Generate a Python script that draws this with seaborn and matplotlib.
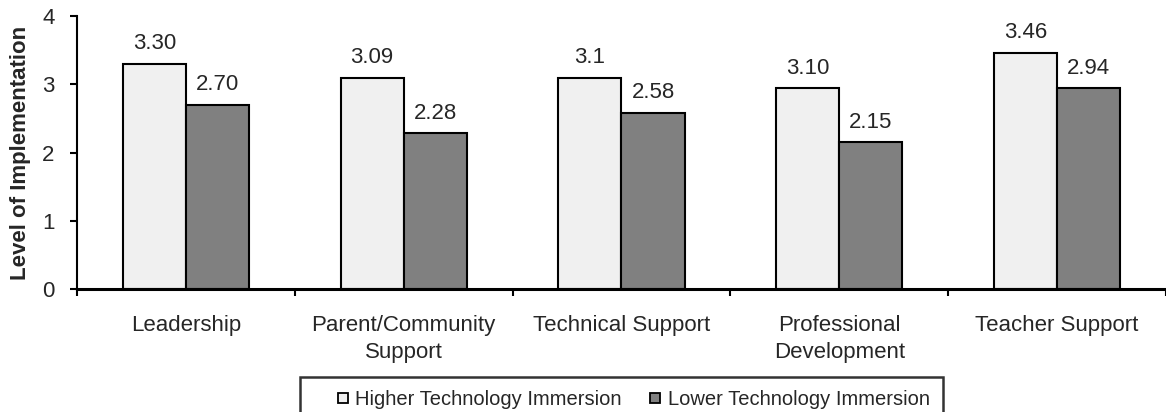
import matplotlib
matplotlib.use("Agg")
import matplotlib.pyplot as plt
from matplotlib.lines import Line2D
import seaborn as sns
import pandas as pd
import numpy as np

# Данные с графика
categories = ["Leadership", "Parent/Community\nSupport", "Technical Support",
              "Professional\nDevelopment", "Teacher Support"]
groups = ["Higher Technology Immersion", "Lower Technology Immersion"]
higher = [3.30, 3.09, 3.09, 2.94, 3.46]
lower = [2.70, 2.28, 2.58, 2.15, 2.94]
higher_labels = ["3.30", "3.09", "3.1", "3.10", "3.46"]
lower_labels = ["2.70", "2.28", "2.58", "2.15", "2.94"]
colors = ["#F0F0F0", "#808080"]

df = pd.DataFrame({
    "category": categories * 2,
    "value": higher + lower,
    "group": [groups[0]] * len(categories) + [groups[1]] * len(categories),
})

sns.set_style("white")
plt.rcParams["font.family"] = ["Liberation Sans", "DejaVu Sans"]

fig = plt.figure(figsize=(11.66, 4.12), dpi=100)
ax_left, ax_width = 0.066, 0.934
ax = fig.add_axes([ax_left, 0.2985, ax_width, 0.6625])

sns.barplot(data=df, x="category", y="value", hue="group", ax=ax,
            palette=colors, saturation=1, width=0.58, gap=0,
            edgecolor="black", linewidth=1.5, legend=False)

for cont, labs in zip(ax.containers, [higher_labels, lower_labels]):
    ax.bar_label(cont, labels=labs, padding=7, fontsize=16)

ax.set_ylim(0, 4)
ax.set_xlim(-0.5, len(categories) - 0.5)
ax.set_yticks([0, 1, 2, 3, 4])
ax.set_xlabel("")
ax.set_ylabel("Level of Implementation", fontsize=16, fontweight="bold", labelpad=8)

# Деления по границам категорий
ax.set_xticks(np.arange(-0.5, len(categories)), minor=True)
ax.tick_params(axis="x", which="major", length=0, pad=19, labelsize=16)
ax.tick_params(axis="x", which="minor", length=5, width=1.5, direction="out", color="black", bottom=True)
ax.tick_params(axis="y", length=5, width=1.5, direction="out", color="black", left=True, labelsize=16, pad=11)
for lab in ax.get_xticklabels():
    lab.set_linespacing(1.35)

for side in ["top", "right"]:
    ax.spines[side].set_visible(False)
ax.spines["left"].set_color("black")
ax.spines["left"].set_linewidth(1.5)
ax.spines["bottom"].set_color("black")
ax.spines["bottom"].set_linewidth(2.2)

# Легенда: квадратные маркеры, рамка по центру под осями
handles = [Line2D([], [], marker="s", linestyle="none", markersize=7.5,
                  markerfacecolor=c, markeredgecolor="black", markeredgewidth=1.3)
           for c in colors]
leg = fig.legend(handles, groups, loc="upper center",
                 bbox_to_anchor=(ax_left + ax_width / 2, 0.085), borderaxespad=0,
                 ncol=2, fontsize=14.5, frameon=True, fancybox=False,
                 edgecolor="black", handlelength=2.9, handletextpad=-0.85,
                 columnspacing=0.25, borderpad=0.65)
leg.get_frame().set_linewidth(1.8)

fig.savefig("out.png", dpi=100)
